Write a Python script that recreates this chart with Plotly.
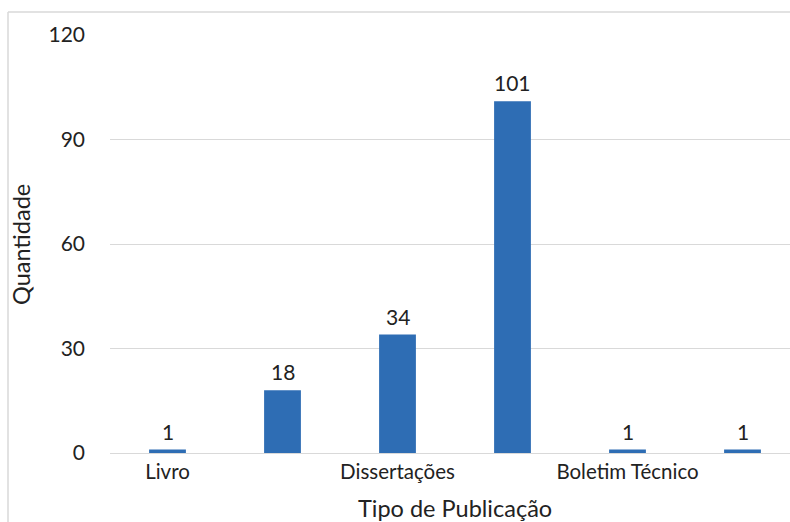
import plotly.graph_objects as go

# Publication types (only every other label is shown on the axis)
positions = [0, 1, 2, 3, 4, 5]
quantities = [1, 18, 34, 101, 1, 1]
tick_positions = [0, 2, 4]
tick_labels = ["Livro", "Dissertações", "Boletim Técnico"]
y_ticks = [0, 30, 60, 90, 120]

W, H = 790, 522
L, R, T, B = 110, 0, 35, 69
plot_w = W - L - R
plot_h = H - T - B

FONT = "Lato"
BAR = "#2E6DB4"
GRID = "#D9D9D9"
TXT = "#222222"

fig = go.Figure(
    go.Bar(
        x=positions,
        y=quantities,
        width=0.32,
        marker=dict(color=BAR, line=dict(width=0)),
        hoverinfo="skip",
    )
)

# pixel -> paper helpers for frame lines and titles
def px_x(px):
    return (px - L) / plot_w

def px_y(py):
    return (H - B - py) / plot_h

# value labels above each bar
value_labels = [
    dict(
        text=str(v), x=x, y=v, xref="x", yref="y",
        showarrow=False, xanchor="center", yanchor="bottom", yshift=4,
        font=dict(family=FONT, size=21, color=TXT),
    )
    for x, v in zip(positions, quantities)
]

fig.update_layout(
    width=W,
    height=H,
    margin=dict(l=L, r=R, t=T, b=B),
    paper_bgcolor="white",
    plot_bgcolor="white",
    showlegend=False,
    font=dict(family=FONT, color=TXT),
    xaxis=dict(
        range=[-0.5, -0.5 + plot_w / 115.0],
        tickmode="array",
        tickvals=tick_positions,
        ticktext=tick_labels,
        tickfont=dict(size=20.5, color=TXT),
        showgrid=False,
        showline=True,
        linecolor=GRID,
        linewidth=1,
        ticks="",
        zeroline=False,
        fixedrange=True,
    ),
    yaxis=dict(
        range=[0, 120],
        tickmode="array",
        tickvals=y_ticks,
        tickfont=dict(size=21, color=TXT),
        showgrid=True,
        gridcolor=GRID,
        gridwidth=1,
        zeroline=False,
        showline=False,
        ticks="",
        ticklabelstandoff=24,
        fixedrange=True,
    ),
    annotations=value_labels + [
        dict(
            text="Tipo de Publicação",
            xref="paper", yref="paper",
            x=px_x(455), y=px_y(508),
            showarrow=False,
            font=dict(size=23.5, color=TXT),
            xanchor="center", yanchor="middle",
        ),
        dict(
            text="Quantidade",
            xref="paper", yref="paper",
            x=px_x(21), y=px_y(245),
            showarrow=False,
            textangle=-90,
            font=dict(size=23.5, color=TXT),
            xanchor="center", yanchor="middle",
        ),
    ],
    shapes=[
        dict(type="line", xref="paper", yref="paper",
             x0=px_x(8), x1=px_x(8), y0=px_y(H + 5), y1=px_y(12),
             line=dict(color=GRID, width=1.5)),
        dict(type="line", xref="paper", yref="paper",
             x0=px_x(8), x1=px_x(W + 5), y0=px_y(12), y1=px_y(12),
             line=dict(color=GRID, width=1.5)),
    ],
)

fig.write_html("out.html")
